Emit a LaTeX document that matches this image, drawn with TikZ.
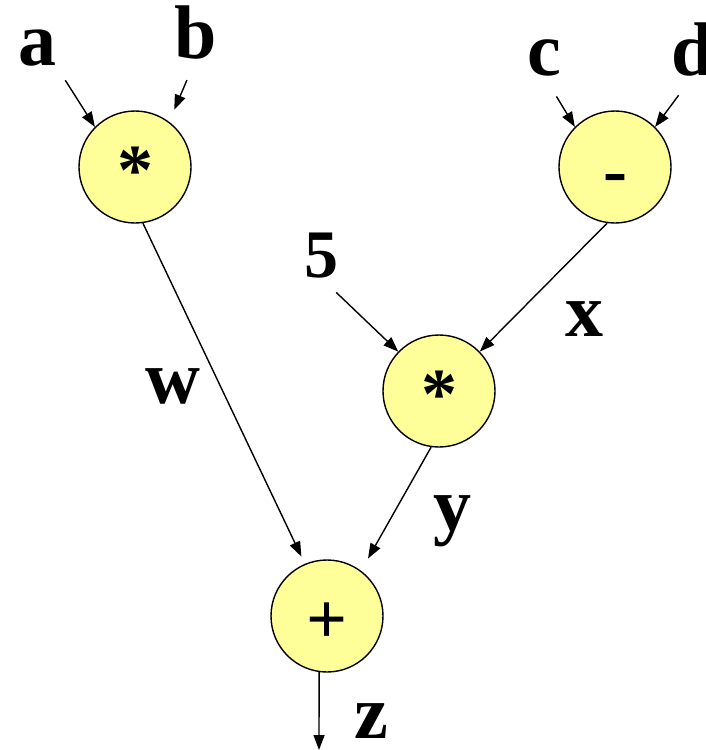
\documentclass[tikz,border=0pt]{standalone}
\usepackage{fontspec}
\setmainfont{Liberation Serif}
\usetikzlibrary{arrows.meta}
\definecolor{opfill}{RGB}{255,255,153}
\tikzset{
  op/.style={draw, circle, fill=opfill, line width=1.4pt, minimum size=112pt, inner sep=0pt,
    text height=54pt, text depth=0pt, font=\bfseries\fontsize{72}{72}\selectfont},
  var/.style={inner sep=0pt, anchor=base, font=\bfseries\fontsize{76}{76}\selectfont},
  arr/.style={-{Triangle[length=15pt,width=11pt]}, line width=1.4pt}
}
\begin{document}
\begin{tikzpicture}[x=1pt, y=-1pt]
\useasboundingbox (0,0) rectangle (705,750);
% operators
\node[op] (m1) at (135,167) {*};
\node[op] (m2) at (615,167) {-};
\node[op] (m3) at (439,391) {*};
\node[op] (m4) at (327,616) {+};
% inputs
\node[var] (a) at (37,65) {a};
\node[var] (b) at (196,58) {b};
\node[var] (c) at (544,75) {c};
\node[var] (d) at (693,75) {d};
\node[var, font=\bfseries\fontsize{68}{68}\selectfont] (five) at (321,277) {5};
% edge names
\node[var] (lblx) at (584,336) {x};
\node[var] (lblw) at (173,403) {w};
\node[var] (lbly) at (452,530) {y};
\node[var] (lblz) at (371,738) {z};
\coordinate (zout) at (319,750);
% arrows
\draw[arr, shorten <=17pt] (a.south east) -- (m1.135);
\draw[arr, shorten <=23pt, shorten >=13pt] (b.south) -- (m1.53);
\draw[arr, shorten <=24pt] (c.south) -- (m2.135);
\draw[arr, shorten <=24pt] (d.south) -- (m2.45);
\draw[arr, shorten <=21pt] (five.south) -- (m3.136);
\draw[arr] (m2.262) -- (m3.44);
\draw[arr, shorten >=8pt] (m1.278) -- (m4.113);
\draw[arr, shorten >=14pt] (m3.262) -- (m4.53);
\draw[arr] (m4.262) -- (zout);
\end{tikzpicture}
\end{document}
